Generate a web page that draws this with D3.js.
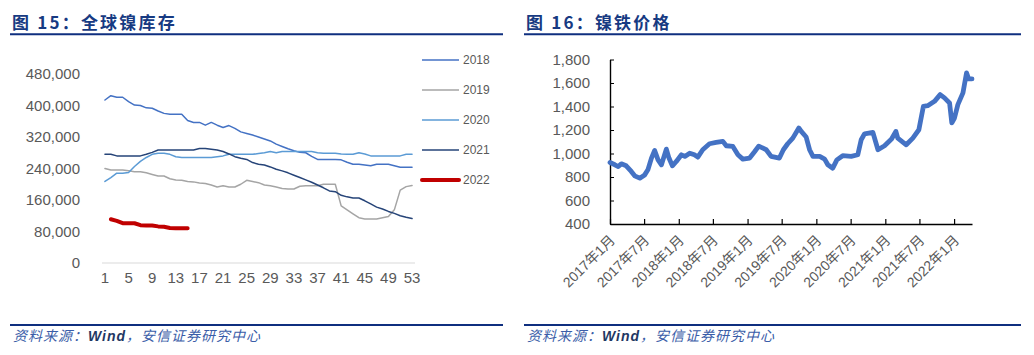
<!DOCTYPE html>
<html>
<head>
<meta charset="utf-8">
<script src="https://cdn.jsdelivr.net/npm/d3@7"></script>
<style>
body { margin: 0; background: #fff; }
svg { display: block; }
text { font-family: "Liberation Sans", "Noto Sans CJK SC", sans-serif; }
</style>
</head>
<body>
<svg id="chart" width="1034" height="355"></svg>
<script>
// 全球镍库存, weekly, tonnes
const weeks = d3.range(1, 54);
const weekLabels = d3.range(1, 54, 4);
const inv2018 = [414000, 425000, 421000, 421000, 410000, 401000, 400000, 394000, 393000, 386000, 380000, 378000, 378000, 378000, 362000, 357000, 357000, 350000, 357000, 350000, 344000, 349000, 342000, 333000, 329000, 325000, 320000, 315000, 310000, 302000, 296000, 290000, 285000, 281000, 280000, 271000, 263000, 263000, 263000, 263000, 262000, 256000, 251000, 251000, 249000, 247000, 251000, 251000, 251000, 247000, 243000, 243000, 243000];
const inv2019 = [240000, 236000, 236000, 236000, 234000, 232000, 232000, 229000, 225000, 221000, 221000, 214000, 211000, 210000, 207000, 206000, 203000, 202000, 198000, 193000, 196000, 193000, 193000, 200000, 210000, 207000, 204000, 198000, 196000, 193000, 189000, 188000, 188000, 195000, 196000, 196000, 196000, 200000, 200000, 200000, 145000, 135000, 125000, 115000, 112000, 112000, 112000, 115000, 118000, 135000, 185000, 194000, 197000];
const inv2020 = [207000, 217000, 228000, 228000, 230000, 245000, 258000, 268000, 276000, 279000, 279000, 276000, 270000, 268000, 268000, 268000, 268000, 268000, 268000, 270000, 272000, 276000, 276000, 276000, 276000, 276000, 278000, 280000, 283000, 280000, 283000, 283000, 283000, 283000, 283000, 283000, 280000, 279000, 279000, 279000, 277000, 276000, 276000, 280000, 277000, 272000, 272000, 272000, 272000, 272000, 272000, 276000, 276000];
const inv2021 = [276000, 276000, 272000, 272000, 272000, 272000, 272000, 276000, 281000, 287000, 287000, 287000, 287000, 287000, 287000, 287000, 291000, 291000, 289000, 287000, 283000, 277000, 270000, 266000, 263000, 255000, 251000, 249000, 244000, 238000, 234000, 229000, 223000, 217000, 211000, 205000, 198000, 191000, 183000, 181000, 172000, 168000, 165000, 165000, 158000, 150000, 142000, 137000, 131000, 126000, 120000, 116000, 113000];
const inv2022 = [null, 111000, 107000, 101000, 101000, 101000, 96000, 95000, 95000, 93000, 92000, 89000, 88000, 88000, 88000];

const invSeries = [
  { name: "2018", values: inv2018, color: "#4472C4", width: 1.5 },
  { name: "2019", values: inv2019, color: "#A5A5A5", width: 1.5 },
  { name: "2020", values: inv2020, color: "#5B9BD5", width: 1.5 },
  { name: "2021", values: inv2021, color: "#264478", width: 1.5 },
  { name: "2022", values: inv2022, color: "#C00000", width: 4 }
];
const invTicks = [0, 80000, 160000, 240000, 320000, 400000, 480000];

// 镍铁价格
const priceDates = ["2017-01-01", "2017-01-27", "2017-02-14", "2017-03-02", "2017-03-28", "2017-04-24", "2017-05-12", "2017-06-08", "2017-07-04", "2017-07-21", "2017-08-09", "2017-08-26", "2017-09-13", "2017-10-01", "2017-10-27", "2017-11-10", "2017-11-28", "2017-12-19", "2018-01-15", "2018-02-02", "2018-02-28", "2018-03-25", "2018-04-12", "2018-05-08", "2018-06-13", "2018-07-18", "2018-08-23", "2018-09-10", "2018-10-15", "2018-11-11", "2018-12-07", "2019-01-12", "2019-02-08", "2019-03-01", "2019-04-10", "2019-05-06", "2019-06-19", "2019-07-10", "2019-08-02", "2019-08-29", "2019-09-30", "2019-10-13", "2019-11-08", "2019-11-26", "2019-12-14", "2020-01-19", "2020-02-14", "2020-03-02", "2020-03-28", "2020-04-19", "2020-05-20", "2020-07-04", "2020-08-08", "2020-08-26", "2020-09-13", "2020-10-27", "2020-11-23", "2020-12-28", "2021-02-03", "2021-02-26", "2021-03-08", "2021-04-22", "2021-05-27", "2021-06-28", "2021-07-22", "2021-08-14", "2021-09-19", "2021-10-19", "2021-11-11", "2021-12-08", "2021-12-20", "2022-01-03", "2022-01-21", "2022-02-17", "2022-03-08", "2022-03-19", "2022-04-06"];
const priceValues = [923, 904, 889, 912, 895, 847, 810, 790, 818, 861, 961, 1026, 946, 904, 1037, 961, 895, 932, 989, 975, 1003, 989, 969, 1032, 1083, 1094, 1103, 1066, 1060, 989, 952, 961, 1017, 1063, 1032, 975, 961, 1032, 1083, 1131, 1217, 1188, 1140, 1032, 975, 975, 952, 904, 875, 946, 981, 975, 989, 1117, 1168, 1180, 1032, 1066, 1123, 1188, 1131, 1074, 1131, 1202, 1401, 1407, 1444, 1501, 1473, 1430, 1260, 1302, 1416, 1516, 1686, 1635, 1635];
const dateTicks = ["2017-01-01", "2017-07-01", "2018-01-01", "2018-07-01", "2019-01-01", "2019-07-01", "2020-01-01", "2020-07-01", "2021-01-01", "2021-07-01", "2022-01-01"];
const dateTickLabels = ["2017年1月", "2017年7月", "2018年1月", "2018年7月", "2019年1月", "2019年7月", "2020年1月", "2020年7月", "2021年1月", "2021年7月", "2022年1月"];
const priceTicks = [400, 600, 800, 1000, 1200, 1400, 1600, 1800];

const svg = d3.select("#chart");
const parse = d3.timeParse("%Y-%m-%d");
const navy = "#0F2F7F";
const labelGray = "#595959";

// panel frame: title, rules, source
function frame(x0, x1, title) {
  svg.append("text")
    .attr("x", x0 + 2).attr("y", 28.5)
    .attr("fill", "#173A82")
    .attr("font-size", 17).attr("font-weight", "bold")
    .attr("letter-spacing", 2.2)
    .style("font-family", '"Noto Sans CJK SC", sans-serif')
    .text(title);
  svg.append("line").attr("x1", x0).attr("x2", x1).attr("y1", 34.3).attr("y2", 34.3)
    .attr("stroke", navy).attr("stroke-width", 2);
  svg.append("line").attr("x1", x0).attr("x2", x1).attr("y1", 325).attr("y2", 325)
    .attr("stroke", navy).attr("stroke-width", 2);
  const src = svg.append("text")
    .attr("x", x0 + 3).attr("y", 341)
    .attr("font-size", 14).attr("font-style", "italic")
    .attr("letter-spacing", 1)
    .attr("fill", "#3A5DA8")
    .style("font-family", '"Noto Sans CJK SC", sans-serif');
  src.append("tspan").text("资料来源：");
  src.append("tspan").attr("fill", "#1F3864").style("font-family", '"Liberation Sans", sans-serif')
    .attr("font-weight", "bold").text("Wind");
  src.append("tspan").text("，安信证券研究中心");
}

frame(10, 503, "图 15：全球镍库存");
frame(524, 1021, "图 16：镍铁价格");

// ---- left chart: inventory
const xInv = d3.scalePoint().domain(weeks).range([102, 415]).padding(0.5);
const yInv = d3.scaleLinear().domain([0, 480000]).range([263, 74]);

svg.append("line").attr("x1", 102).attr("x2", 415)
  .attr("y1", yInv(0)).attr("y2", yInv(0))
  .attr("stroke", "#D9D9D9").attr("stroke-width", 1);

svg.append("g").selectAll("text")
  .data(invTicks).enter().append("text")
  .attr("x", 80).attr("y", d => yInv(d)).attr("dy", "0.35em")
  .attr("text-anchor", "end").attr("font-size", 15).attr("fill", labelGray)
  .text(d => d3.format(",")(d));

svg.append("g").selectAll("text")
  .data(weekLabels).enter().append("text")
  .attr("x", d => xInv(d)).attr("y", 283)
  .attr("text-anchor", "middle").attr("font-size", 15).attr("fill", labelGray)
  .text(d => d);

const invLine = d3.line()
  .defined(d => d[1] != null)
  .x(d => xInv(d[0]))
  .y(d => yInv(d[1]));

svg.append("g").selectAll("path")
  .data(invSeries).enter().append("path")
  .attr("fill", "none")
  .attr("stroke", d => d.color)
  .attr("stroke-width", d => d.width)
  .attr("stroke-linejoin", "round")
  .attr("stroke-linecap", "round")
  .attr("d", d => invLine(d.values.map((v, i) => [weeks[i], v])));

const legend = svg.append("g").selectAll("g")
  .data(invSeries).enter().append("g")
  .attr("transform", (d, i) => `translate(422,${60 + i * 30})`);
legend.append("line").attr("x1", 0).attr("x2", 37)
  .attr("stroke", d => d.color).attr("stroke-width", d => d.width)
  .attr("stroke-linecap", d => d.width > 2 ? "round" : "butt");
legend.append("text").attr("x", 41).attr("dy", "0.35em")
  .attr("font-size", 12).attr("fill", labelGray)
  .text(d => d.name);

// ---- right chart: price
const xP = d3.scaleTime().domain([parse("2017-01-01"), parse("2022-04-06")]).range([610, 972]);
const yP = d3.scaleLinear().domain([400, 1800]).range([224, 59.5]);

const yAxis = d3.axisLeft(yP).tickValues(priceTicks).tickSizeInner(-4).tickSizeOuter(0)
  .tickPadding(20).tickFormat(d3.format(","));
const gy = svg.append("g").attr("transform", "translate(610,0)").call(yAxis);
gy.selectAll("text").attr("font-size", 15).attr("fill", labelGray)
  .style("font-family", '"Liberation Sans", sans-serif');
gy.selectAll("line").attr("stroke", "#000");
gy.select(".domain").attr("stroke", "#000").attr("stroke-width", 1.4);

const xAxis = d3.axisBottom(xP).tickValues(dateTicks.map(parse)).tickSizeInner(-5).tickSizeOuter(0)
  .tickFormat("");
const gx = svg.append("g").attr("transform", "translate(0,224)").call(xAxis);
gx.selectAll("line").attr("stroke", "#000").attr("stroke-width", 1.2);
gx.select(".domain").attr("stroke", "#000").attr("stroke-width", 1.4);

svg.append("g").selectAll("text")
  .data(dateTicks).enter().append("text")
  .attr("transform", d => `translate(${xP(parse(d)) + 6},241) rotate(-45)`)
  .attr("text-anchor", "end").attr("font-size", 14).attr("fill", labelGray)
  .text((d, i) => dateTickLabels[i]);

const priceLine = d3.line()
  .x(d => xP(d[0]))
  .y(d => yP(d[1]));

svg.append("path")
  .attr("fill", "none")
  .attr("stroke", "#4472C4")
  .attr("stroke-width", 4.8)
  .attr("stroke-linejoin", "round")
  .attr("stroke-linecap", "round")
  .attr("d", priceLine(priceDates.map((d, i) => [parse(d), priceValues[i]])));
</script>
</body>
</html>
